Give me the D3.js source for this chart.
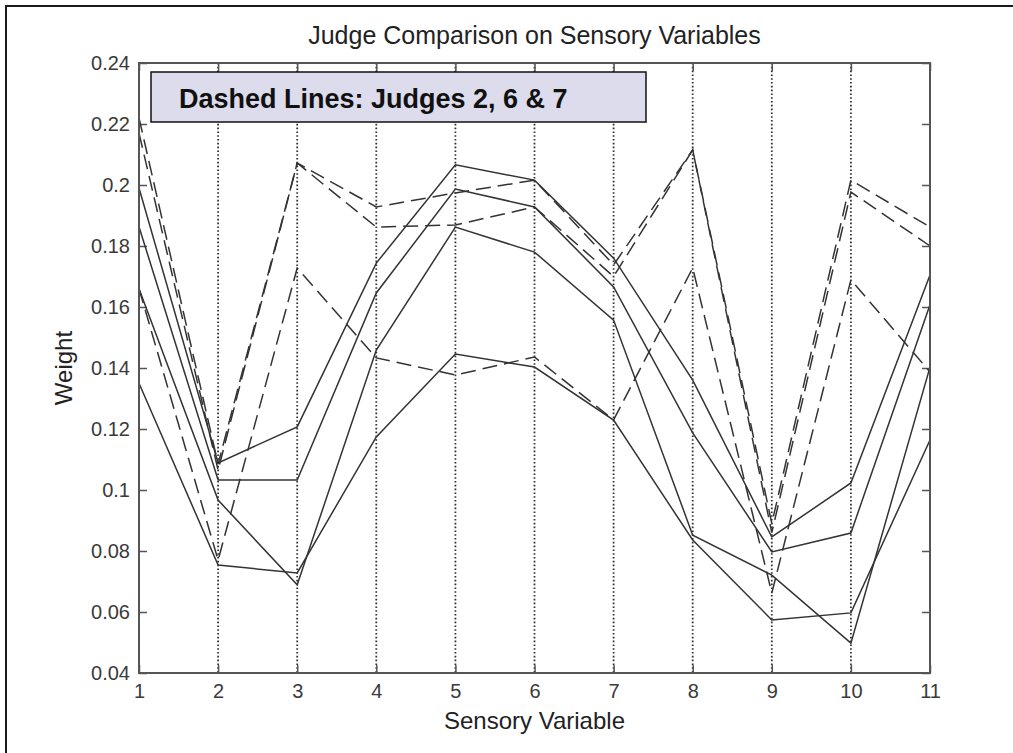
<!DOCTYPE html>
<html>
<head>
<meta charset="utf-8">
<script src="https://cdn.jsdelivr.net/npm/d3@7"></script>
<style>
  body { margin: 0; background: #fff; }
  svg { display: block; font-family: "Liberation Sans", Arial, sans-serif; }
</style>
</head>
<body>
<div id="chart"></div>
<script>
var width = 1013,
    height = 753;

// sensory variables 1..11
var variables = [1, 2, 3, 4, 5, 6, 7, 8, 9, 10, 11];
var yTicks = [0.04, 0.06, 0.08, 0.1, 0.12, 0.14, 0.16, 0.18, 0.2, 0.22, 0.24];

// solid lines (judges 1, 3, 4, 5)
var judge1 = [0.199, 0.1089, 0.1207, 0.1744, 0.2066, 0.2016, 0.176, 0.136, 0.0846, 0.1023, 0.1705];
var judge3 = [0.1863, 0.1033, 0.1033, 0.1646, 0.1987, 0.1928, 0.1666, 0.1187, 0.0797, 0.0859, 0.1607];
var judge4 = [0.166, 0.0967, 0.0689, 0.1459, 0.1862, 0.178, 0.1557, 0.0852, 0.0721, 0.0498, 0.1403];
var judge5 = [0.135, 0.0754, 0.0728, 0.1174, 0.1446, 0.1403, 0.1229, 0.0836, 0.0574, 0.0597, 0.1164];
// dashed lines (judges 2, 6, 7)
var judge2 = [0.222, 0.1085, 0.2072, 0.1928, 0.1974, 0.2016, 0.1738, 0.2115, 0.089, 0.2016, 0.1862];
var judge6 = [0.217, 0.1065, 0.2072, 0.1862, 0.1869, 0.1928, 0.1700, 0.2115, 0.086, 0.1977, 0.180];
var judge7 = [0.166, 0.077, 0.1728, 0.1433, 0.1377, 0.1436, 0.123, 0.1728, 0.0662, 0.1689, 0.1387];

var series = [
    { name: "Judge 1", values: judge1, dashed: false },
    { name: "Judge 2", values: judge2, dashed: true },
    { name: "Judge 3", values: judge3, dashed: false },
    { name: "Judge 4", values: judge4, dashed: false },
    { name: "Judge 5", values: judge5, dashed: false },
    { name: "Judge 6", values: judge6, dashed: true },
    { name: "Judge 7", values: judge7, dashed: true }
];

var plotLeft = 139, plotRight = 930, plotTop = 63, plotBottom = 673;

var x = d3.scaleLinear().domain([1, 11]).range([plotLeft, plotRight]);
var y = d3.scaleLinear().domain([0.04, 0.24]).range([plotBottom, plotTop]);

var svg = d3.select("#chart").append("svg")
    .attr("width", width)
    .attr("height", height);

svg.append("rect")
    .attr("width", width)
    .attr("height", height)
    .attr("fill", "#fff");

// figure frame (only top and left edges are inside the picture)
svg.append("rect")
    .attr("x", 6).attr("y", 6)
    .attr("width", width + 20).attr("height", height + 20)
    .attr("fill", "none")
    .attr("stroke", "#1a1a1a")
    .attr("stroke-width", 2);

// vertical dotted grid
svg.append("g")
    .selectAll("line")
    .data(variables.slice(1, -1))
    .join("line")
    .attr("x1", d => x(d)).attr("x2", d => x(d))
    .attr("y1", plotTop).attr("y2", plotBottom)
    .attr("stroke", "#333")
    .attr("stroke-width", 1.8)
    .attr("stroke-dasharray", "1.6,2.2");

var fmt = d => String(+d.toFixed(2));

var axisColor = "#555";

function styleAxis(g) {
    g.select(".domain").remove();
    g.selectAll(".tick line").attr("stroke", axisColor).attr("stroke-width", 1.5);
    g.selectAll(".tick text")
        .attr("fill", "#3a3a3a")
        .attr("font-size", 20)
        .attr("font-family", "\"Liberation Sans\", Arial, sans-serif");
}

svg.append("g")
    .attr("transform", `translate(0,${plotBottom})`)
    .call(d3.axisBottom(x).tickValues(variables).tickFormat(fmt).tickSizeInner(-8).tickSizeOuter(0).tickPadding(11))
    .call(styleAxis);

svg.append("g")
    .attr("transform", `translate(0,${plotTop})`)
    .call(d3.axisTop(x).tickValues(variables).tickFormat("").tickSizeInner(-8).tickSizeOuter(0))
    .call(styleAxis);

svg.append("g")
    .attr("transform", `translate(${plotLeft},0)`)
    .call(d3.axisLeft(y).tickValues(yTicks).tickFormat(fmt).tickSizeInner(-8).tickSizeOuter(0).tickPadding(9))
    .call(styleAxis);

svg.append("g")
    .attr("transform", `translate(${plotRight},0)`)
    .call(d3.axisRight(y).tickValues(yTicks).tickFormat("").tickSizeInner(-8).tickSizeOuter(0))
    .call(styleAxis);

// data lines
var line = d3.line()
    .x((d, i) => x(variables[i]))
    .y(d => y(d));

svg.append("g")
    .attr("fill", "none")
    .selectAll("path")
    .data(series)
    .join("path")
    .attr("d", d => line(d.values))
    .attr("stroke", "#333")
    .attr("stroke-width", 1.5)
    .attr("stroke-dasharray", d => d.dashed ? "15,7" : null);

// axes box
svg.append("rect")
    .attr("x", plotLeft).attr("y", plotTop)
    .attr("width", plotRight - plotLeft).attr("height", plotBottom - plotTop)
    .attr("fill", "none")
    .attr("stroke", axisColor)
    .attr("stroke-width", 2);

// annotation box
svg.append("rect")
    .attr("x", 151).attr("y", 72)
    .attr("width", 495).attr("height", 50)
    .attr("fill", "#dcdcec")
    .attr("stroke", "#111")
    .attr("stroke-width", 1.5);

svg.append("text")
    .attr("x", 179).attr("y", 108)
    .attr("font-size", 27)
    .attr("font-weight", "bold")
    .attr("fill", "#111")
    .text("Dashed Lines: Judges 2, 6 & 7");

// title and axis labels
svg.append("text")
    .attr("x", (plotLeft + plotRight) / 2).attr("y", 44)
    .attr("text-anchor", "middle")
    .attr("font-size", 25)
    .attr("fill", "#222")
    .text("Judge Comparison on Sensory Variables");

svg.append("text")
    .attr("x", (plotLeft + plotRight) / 2).attr("y", 729)
    .attr("text-anchor", "middle")
    .attr("font-size", 24)
    .attr("fill", "#222")
    .text("Sensory Variable");

svg.append("text")
    .attr("transform", `translate(72,${(plotTop + plotBottom) / 2}) rotate(-90)`)
    .attr("text-anchor", "middle")
    .attr("font-size", 24)
    .attr("fill", "#222")
    .text("Weight");
</script>
</body>
</html>
